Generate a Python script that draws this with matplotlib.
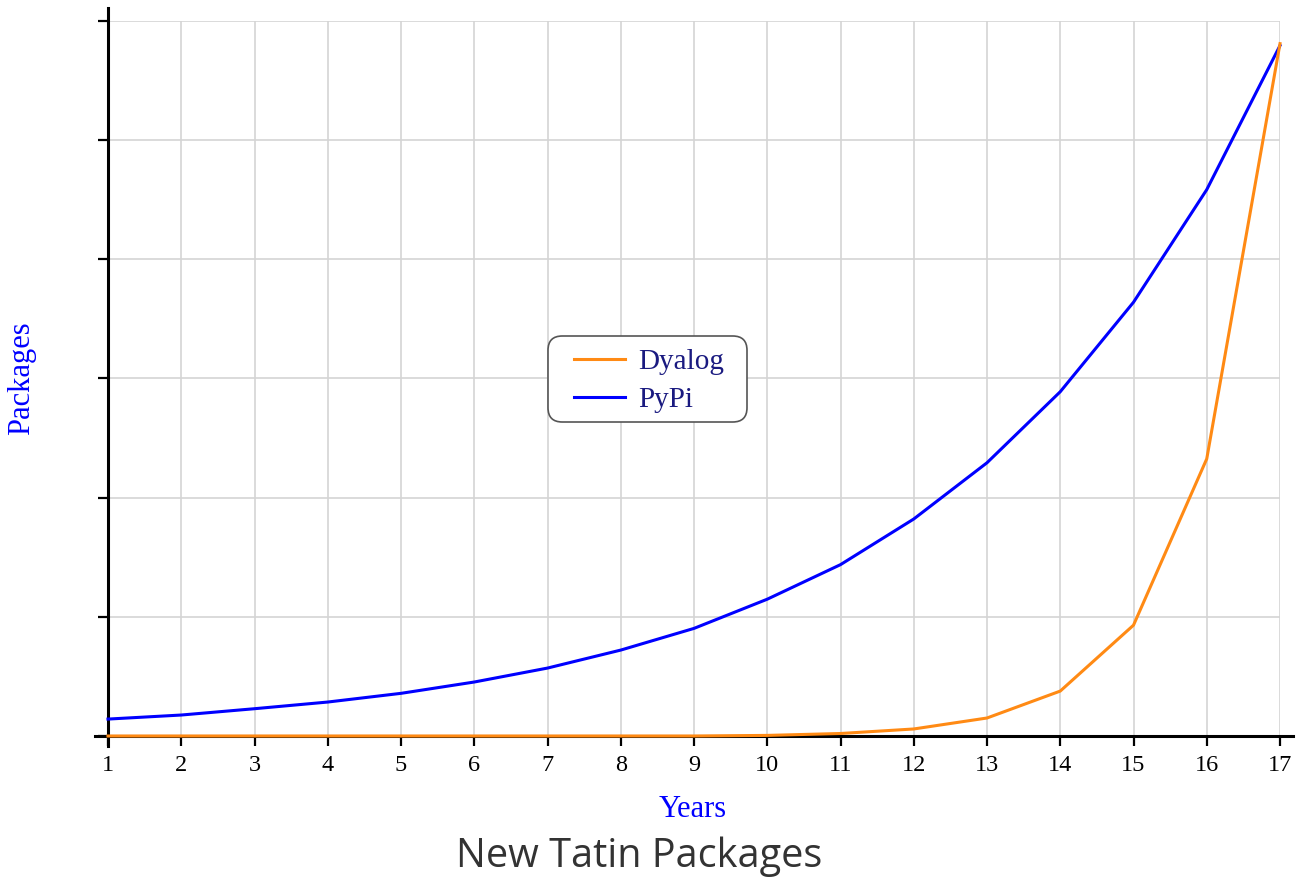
import matplotlib
matplotlib.use("Agg")
import matplotlib.pyplot as plt
from matplotlib.patches import FancyBboxPatch

# Years on the x axis and new packages per year (y ticks are unlabelled)
years = list(range(1, 18))
dyalog = [0, 0, 0, 0, 0, 0, 0, 0, 0, 5, 21, 59, 151, 377, 930, 2326, 5810]
pypi = [142, 176, 229, 285, 358, 453, 570, 721, 903, 1148, 1438, 1821, 2293, 2889, 3640, 4585, 5794]
y_ticks = [0, 1000, 2000, 3000, 4000, 5000, 6000]

W, H = 1297, 880
fig = plt.figure(figsize=(W / 100, H / 100), dpi=100)
fig.patch.set_facecolor("white")

# axes box in pixels: x=1 at 108, x=17 at 1280, y=0 at 736, y=6000 at 21
ax = fig.add_axes([108 / W, (H - 736) / H, (1280 - 108) / W, (736 - 21) / H])
ax.set_xlim(1, 17)
ax.set_ylim(0, 6000)

for s in ax.spines.values():
    s.set_visible(False)

serif = "Liberation Serif"

ax.set_xticks(years)
ax.set_xticklabels([str(y) for y in years], fontfamily=serif, fontsize=17.5)
ax.set_yticks(y_ticks)
ax.set_yticklabels([])
ax.tick_params(axis="both", length=7, width=1.6, color="black")
ax.tick_params(axis="x", pad=7)
ax.grid(True, color="#d4d4d4", linewidth=1.2)
ax.set_axisbelow(True)

# axis lines, drawn a little past the data range like the original
ax.plot([0.82, 17.18], [0, 0], color="black", linewidth=2.2, clip_on=False, zorder=2)
ax.plot([1, 1], [-80, 6107], color="black", linewidth=2.2, clip_on=False, zorder=2)

l_pypi, = ax.plot(years, pypi, color="#0000ff", linewidth=2.2, clip_on=False, zorder=3)
l_dya, = ax.plot(years, dyalog, color="#ff8a14", linewidth=2.2, clip_on=False, zorder=4)

# legend box drawn by hand (wider side padding than matplotlib allows)
bx0, bx1, by0, by1 = 548, 747, 336, 422
box = FancyBboxPatch((bx0 / W, 1 - by1 / H), (bx1 - bx0) / W, (by1 - by0) / H,
                     boxstyle="round,pad=0,rounding_size=0.011",
                     transform=fig.transFigure, facecolor="white",
                     edgecolor="#555555", linewidth=1.2, zorder=5,
                     mutation_aspect=W / H, clip_on=False)
ax.add_patch(box)

leg = ax.legend([l_dya, l_pypi], ["Dyalog", "PyPi"], loc="center",
                bbox_to_anchor=((649 - 108) / (1280 - 108), (736 - 381) / (736 - 21)),
                prop={"family": serif, "size": 21}, frameon=False,
                handlelength=1.75, borderpad=0.3, labelspacing=0.4,
                handletextpad=0.45)
leg.set_zorder(6)
for t in leg.get_texts():
    t.set_color("#1a1a80")

fig.text(693 / W, 1 - 809 / H, "Years", ha="center", va="center",
         fontfamily=serif, fontsize=22, color="#0000ff")
fig.text(22 / W, 1 - 378 / H, "Packages", ha="center", va="center",
         rotation=90, fontfamily=serif, fontsize=22, color="#0000ff")
fig.text(639 / W, 1 - 857 / H, "New Tatin Packages", ha="center", va="center",
         fontfamily="Open Sans", fontsize=28.5, color="#333333")

fig.savefig("out.png", dpi=100)
